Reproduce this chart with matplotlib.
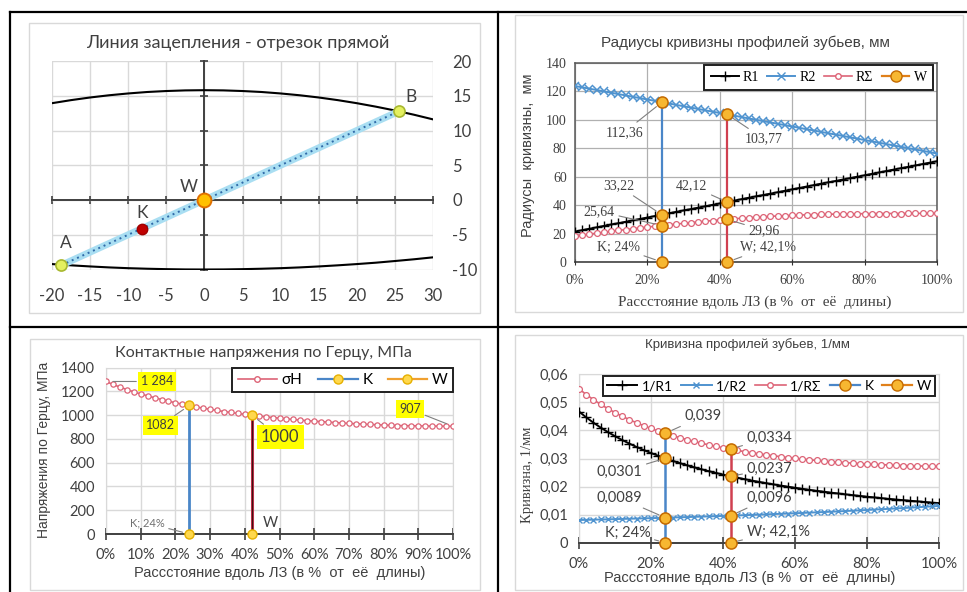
import matplotlib
matplotlib.use("Agg")
import matplotlib.pyplot as plt
from matplotlib.lines import Line2D
from matplotlib.patches import Rectangle
from matplotlib.ticker import PercentFormatter, FuncFormatter

# ---------------- data ----------------
# line of action (top-left)
arc_x = [-20, -17.5, -15, -12.5, -10, -7.5, -5, -2.5, 0, 2.5, 5, 7.5, 10,
         12.5, 15, 17.5, 20, 22.5, 25, 27.5, 30]
arc_top = [13.93, 14.37, 14.75, 15.07, 15.33, 15.54, 15.68, 15.77, 15.8, 15.77, 15.68,
           15.54, 15.33, 15.07, 14.75, 14.37, 13.93, 13.43, 12.88, 12.27, 11.6]
arc_bottom = [-9.22, -9.4, -9.56, -9.7, -9.81, -9.89, -9.95, -9.99, -10, -9.99, -9.95,
              -9.89, -9.81, -9.7, -9.56, -9.4, -9.22, -9.02, -8.78, -8.53, -8.25]
point_names = ["A", "K", "W", "B"]
point_x = [-18.8, -8.2, 0, 25.6]
point_y = [-9.4, -4.2, 0, 12.8]

# position along line of action, %
x_pct = list(range(0, 101, 2))
k_pos = 24
w_pos = 42.1

r1 = [21.4, 22.4, 23.4, 24.4, 25.4, 26.4, 27.3, 28.3, 29.3, 30.3,
      31.3, 32.3, 33.3, 34.3, 35.3, 36.3, 37.2, 38.2, 39.2, 40.2,
      41.2, 42.2, 43.2, 44.2, 45.2, 46.2, 47.1, 48.1, 49.1, 50.1,
      51.1, 52.1, 53.1, 54.1, 55.1, 56.1, 57.0, 58.0, 59.0, 60.0,
      61.0, 62.0, 63.0, 64.0, 65.0, 66.0, 66.9, 67.9, 68.9, 69.9, 70.9]
r2 = [123.8, 122.9, 121.9, 121.0, 120.0, 119.1, 118.1, 117.2, 116.2, 115.3,
      114.3, 113.4, 112.4, 111.5, 110.5, 109.6, 108.6, 107.7, 106.7, 105.8,
      104.8, 103.9, 102.9, 102.0, 101.0, 100.1, 99.1, 98.2, 97.2, 96.3,
      95.3, 94.4, 93.4, 92.5, 91.5, 90.6, 89.6, 88.7, 87.7, 86.8,
      85.8, 84.9, 83.9, 83.0, 82.0, 81.1, 80.1, 79.2, 78.2, 77.3, 76.3]
r_sum = [18.3, 18.9, 19.6, 20.3, 20.9, 21.6, 22.2, 22.8, 23.4, 24.0,
         24.6, 25.1, 25.6, 26.2, 26.7, 27.2, 27.7, 28.2, 28.7, 29.1,
         29.6, 30.0, 30.4, 30.8, 31.2, 31.5, 31.8, 32.1, 32.4, 32.6,
         32.8, 33.0, 33.2, 33.3, 33.5, 33.6, 33.7, 33.8, 33.9, 33.9,
         34.0, 34.0, 34.1, 34.1, 34.1, 34.1, 34.2, 34.2, 34.2, 34.2, 34.2]
k_r_vals = [0, 25.64, 33.22, 112.36]
k_r_labels = ["K; 24%", "25,64", "33,22", "112,36"]
w_r_vals = [0, 29.96, 42.12, 103.77]
w_r_labels = ["W; 42,1%", "29,96", "42,12", "103,77"]

sigma_h = [1284, 1259, 1237, 1216, 1197, 1179, 1163, 1147, 1132, 1118,
           1105, 1093, 1082, 1070, 1059, 1050, 1040, 1031, 1023, 1015,
           1007, 1000, 993, 987, 980, 975, 969, 964, 959, 954,
           950, 946, 942, 938, 934, 931, 928, 925, 922, 920,
           917, 915, 913, 912, 911, 910, 909, 908, 908, 907, 907]
k_sigma = [0, 1082]
w_sigma = [0, 1000]

inv_r1 = [0.04673, 0.04466, 0.04277, 0.04103, 0.03943, 0.03795, 0.03658, 0.03530, 0.03411, 0.03299,
          0.03195, 0.03097, 0.03005, 0.02918, 0.02836, 0.02759, 0.02685, 0.02616, 0.02550, 0.02487,
          0.02427, 0.02370, 0.02316, 0.02264, 0.02214, 0.02167, 0.02121, 0.02078, 0.02036, 0.01996,
          0.01957, 0.01920, 0.01884, 0.01849, 0.01816, 0.01784, 0.01753, 0.01723, 0.01694, 0.01666,
          0.01639, 0.01613, 0.01588, 0.01563, 0.01539, 0.01516, 0.01494, 0.01472, 0.01451, 0.01430, 0.01410]
inv_r2 = [0.00808, 0.00814, 0.00820, 0.00827, 0.00833, 0.00840, 0.00847, 0.00854, 0.00861, 0.00868,
          0.00875, 0.00882, 0.00890, 0.00897, 0.00905, 0.00913, 0.00921, 0.00929, 0.00937, 0.00946,
          0.00954, 0.00963, 0.00972, 0.00981, 0.00990, 0.01000, 0.01009, 0.01019, 0.01029, 0.01039,
          0.01049, 0.01060, 0.01071, 0.01082, 0.01093, 0.01104, 0.01116, 0.01128, 0.01140, 0.01153,
          0.01166, 0.01179, 0.01192, 0.01206, 0.01220, 0.01234, 0.01248, 0.01263, 0.01279, 0.01294, 0.01311]
inv_rsum = [0.05481, 0.05280, 0.05097, 0.04930, 0.04776, 0.04635, 0.04505, 0.04384, 0.04272, 0.04167,
            0.04070, 0.03979, 0.03895, 0.03815, 0.03741, 0.03672, 0.03606, 0.03545, 0.03487, 0.03433,
            0.03381, 0.03333, 0.03288, 0.03245, 0.03204, 0.03167, 0.03130, 0.03097, 0.03065, 0.03035,
            0.03006, 0.02980, 0.02955, 0.02931, 0.02909, 0.02888, 0.02869, 0.02851, 0.02834, 0.02819,
            0.02805, 0.02792, 0.02780, 0.02769, 0.02759, 0.02750, 0.02742, 0.02735, 0.02730, 0.02724, 0.02721]
k_c_vals = [0, 0.0089, 0.0301, 0.039]
k_c_labels = ["K; 24%", "0,0089", "0,0301", "0,039"]
w_c_vals = [0, 0.0096, 0.0237, 0.0334]
w_c_labels = ["W; 42,1%", "0,0096", "0,0237", "0,0334"]

# ---------------- style ----------------
SANS = ["Lato", "DejaVu Sans"]
NARROW = ["Liberation Sans", "DejaVu Sans"]
SERIF = ["Liberation Serif", "DejaVu Serif"]
plt.rcParams["font.family"] = SANS
plt.rcParams["axes.unicode_minus"] = False

C_TXT = "#404040"
C_GRID = "#d9d9d9"
C_BLACK = "#000000"
C_BLUE = "#4f93cf"
C_RED = "#dd6477"
C_VBLUE = "#4a86c8"
C_VRED = "#d04050"
C_ORANGE_F = "#f7b731"
C_ORANGE_E = "#c46a00"
C_YELLOW_F = "#ffd84d"
C_YELLOW_E = "#e6b000"

W_PX, H_PX = 967, 592


def fbox(x0, y0, x1, y1):
    return [x0 / W_PX, 1 - y1 / H_PX, (x1 - x0) / W_PX, (y1 - y0) / H_PX]


def fpt(x, y):
    return x / W_PX, 1 - y / H_PX


def note(ax, text, xy, dxy, ha="center", size=9.5, family=SANS, color=C_TXT,
         leader=True, bbox=None):
    arrow = None
    if leader:
        arrow = dict(arrowstyle="-", color="#7f7f7f", lw=0.8, shrinkA=1, shrinkB=5)
    ax.annotate(text, xy=xy, xytext=dxy, textcoords="offset pixels", ha=ha,
                va="center", fontsize=size, family=family, color=color,
                bbox=bbox, arrowprops=arrow, zorder=8)


fig = plt.figure(figsize=(9.67, 5.92), dpi=100)

# table grid and chart frames
for x0, y0, x1, y1 in [(10, 12, 967, 12), (10, 327, 967, 327), (10, 12, 10, 592), (498, 12, 498, 592)]:
    fig.add_artist(Line2D([x0 / W_PX, x1 / W_PX], [1 - y0 / H_PX, 1 - y1 / H_PX],
                          color="black", lw=1.6, transform=fig.transFigure))
for x0, y0, x1, y1 in [(29, 23, 480, 313), (515, 15, 963, 312), (30, 339, 480, 590), (515, 335, 963, 590)]:
    b = fbox(x0, y0, x1, y1)
    fig.add_artist(Rectangle((b[0], b[1]), b[2], b[3], transform=fig.transFigure,
                             fill=False, ec="#d9d9d9", lw=1))

# ---------------- top-left: line of action ----------------
ax1 = fig.add_axes(fbox(52, 61, 433, 269.5))
ax1.set_xlim(-20, 30)
ax1.set_ylim(-10, 20)
ax1.set_xticks(range(-20, 31, 5))
ax1.set_yticks(range(-10, 21, 5))
ax1.grid(color=C_GRID, lw=1)
ax1.set_axisbelow(True)
for s in ["top", "right"]:
    ax1.spines[s].set_visible(False)
for s in ["left", "bottom"]:
    ax1.spines[s].set_position(("data", 0))
    ax1.spines[s].set_color("#404040")
    ax1.spines[s].set_linewidth(1.4)
ax1.tick_params(direction="inout", length=6, color="#404040", width=1.2,
                labelbottom=False, labelleft=False)

sx = ax1.secondary_xaxis("bottom")
sx.set_xticks(range(-20, 31, 5))
sx.tick_params(length=0, pad=13, labelsize=12, labelcolor=C_TXT)
sx.spines["bottom"].set_visible(False)
sy = ax1.secondary_yaxis("right")
sy.set_yticks(range(-10, 21, 5))
sy.tick_params(length=0, pad=14, labelsize=12, labelcolor=C_TXT)
sy.spines["right"].set_visible(False)

ax1.plot(arc_x, arc_top, color="black", lw=1.5, zorder=3)
ax1.plot(arc_x, arc_bottom, color="black", lw=1.5, zorder=3)
ax1.plot([point_x[0], point_x[3]], [point_y[0], point_y[3]], color="#a9def2", lw=5,
         solid_capstyle="butt", zorder=4)
ax1.plot([point_x[0], point_x[3]], [point_y[0], point_y[3]], color="#2f6aa8", lw=1.4,
         linestyle=(0, (1, 2)), zorder=5)
ax1.plot([point_x[0], point_x[3]], [point_y[0], point_y[3]], linestyle="none", marker="o",
         ms=8, mfc="#e4f060", mec="#a8b830", mew=1.2, zorder=6, clip_on=False)
ax1.plot(point_x[1], point_y[1], linestyle="none", marker="o", ms=7.5, mfc="#c00000",
         mec="#a00000", zorder=6)
ax1.plot(point_x[2], point_y[2], linestyle="none", marker="o", ms=10, mfc="#ffc000",
         mec="#e07000", mew=1.4, zorder=7)
letter_offsets = [(5, 22), (0, 16), (-16, 13), (12, 14)]
for name, px, py, off in zip(point_names, point_x, point_y, letter_offsets):
    note(ax1, name, (px, py), off, size=12.5, leader=False)

fig.text(*fpt(238, 43), "Линия зацепления - отрезок прямой", ha="center", va="center",
         fontsize=13, color=C_TXT)

# ---------------- top-right: radii ----------------
ax2 = fig.add_axes(fbox(575, 63, 937, 262))
ax2.set_xlim(0, 100)
ax2.set_ylim(0, 140)
ax2.set_xticks(range(0, 101, 20))
ax2.set_yticks(range(0, 141, 20))
ax2.xaxis.set_major_formatter(PercentFormatter(xmax=100, decimals=0))
ax2.grid(color="#b0b0b0", lw=0.9)
ax2.set_axisbelow(True)
for s in ax2.spines.values():
    s.set_color("#595959")
    s.set_linewidth(1.1)
ax2.spines["bottom"].set_color("#303030")
ax2.tick_params(axis="x", length=4, direction="inout", color="#303030", pad=7)
ax2.tick_params(axis="y", length=0, pad=6)
for lab in ax2.get_xticklabels() + ax2.get_yticklabels():
    lab.set_family(SERIF)
    lab.set_fontsize(10)
    lab.set_color(C_TXT)

ax2.plot(x_pct, r1, color=C_BLACK, lw=1.4, marker="+", ms=7, mew=1, zorder=3)
ax2.plot(x_pct, r2, color=C_BLUE, lw=1.4, marker="x", ms=5.5, mew=1.1, zorder=3)
ax2.plot(x_pct, r_sum, color=C_RED, lw=1.2, marker="o", ms=4.2, mfc="white", mew=0.9, zorder=3)
ax2.plot([k_pos, k_pos], [0, max(k_r_vals)], color=C_VBLUE, lw=1.6, zorder=4)
ax2.plot([w_pos, w_pos], [0, max(w_r_vals)], color=C_VRED, lw=1.6, zorder=4)
ax2.plot([k_pos] * 4, k_r_vals, linestyle="none", marker="o", ms=8, mfc=C_ORANGE_F,
         mec=C_ORANGE_E, mew=1.1, zorder=5, clip_on=False)
ax2.plot([w_pos] * 4, w_r_vals, linestyle="none", marker="o", ms=8, mfc=C_ORANGE_F,
         mec=C_ORANGE_E, mew=1.1, zorder=5, clip_on=False)
k_r_off = [((-22, 15), "right"), ((-47, 14), "right"), ((-28, 29), "right"), ((-19, -30), "right")]
w_r_off = [((13, 15), "left"), ((21, -11), "left"), ((-20, 16), "right"), ((17, -24), "left")]
for v, t, (off, ha) in zip(k_r_vals, k_r_labels, k_r_off):
    note(ax2, t, (k_pos, v), off, ha=ha, size=10, family=SERIF)
for v, t, (off, ha) in zip(w_r_vals, w_r_labels, w_r_off):
    note(ax2, t, (w_pos, v), off, ha=ha, size=10, family=SERIF)

h2 = [Line2D([], [], color=C_BLACK, lw=1.4, marker="+", ms=7),
      Line2D([], [], color=C_BLUE, lw=1.4, marker="x", ms=5.5),
      Line2D([], [], color=C_RED, lw=1.2, marker="o", ms=4, mfc="white"),
      Line2D([], [], color="#e0801a", lw=1.6, marker="o", ms=8, mfc=C_ORANGE_F, mec=C_ORANGE_E)]
leg2 = ax2.legend(h2, ["R1", "R2", "RΣ", "W"], loc="upper right", bbox_to_anchor=(0.989, 0.99),
                  borderaxespad=0, ncol=4, fancybox=False, framealpha=1, edgecolor="#202020",
                  handlelength=2.0, columnspacing=0.6, handletextpad=0.3, borderpad=0.45,
                  prop={"family": SERIF, "size": 10})
leg2.get_frame().set_linewidth(1.4)

fig.text(*fpt(745, 43), "Радиусы кривизны профилей зубьев, мм", ha="center", va="center",
         fontsize=11, family=NARROW, color=C_TXT)
fig.text(*fpt(528, 155), "Радиусы  кривизны,  мм", ha="center", va="center", rotation=90,
         fontsize=10.5, family=NARROW, color=C_TXT)
fig.text(*fpt(755, 302), "Рассстояние вдоль ЛЗ (в %  от  её  длины)", ha="center",
         va="center", fontsize=11, family=SERIF, color=C_TXT)

# ---------------- bottom-left: contact stress ----------------
ax3 = fig.add_axes(fbox(106, 367.7, 453, 534))
ax3.set_xlim(0, 100)
ax3.set_ylim(0, 1400)
ax3.set_xticks(range(0, 101, 10))
ax3.set_yticks(range(0, 1401, 200))
ax3.xaxis.set_major_formatter(PercentFormatter(xmax=100, decimals=0))
ax3.grid(color=C_GRID, lw=1)
ax3.set_axisbelow(True)
for s in ["top", "right", "left"]:
    ax3.spines[s].set_color(C_GRID)
ax3.spines["bottom"].set_color("#404040")
ax3.spines["bottom"].set_linewidth(1.4)
ax3.tick_params(axis="x", direction="inout", length=8, width=1.2, color="#404040",
                labelsize=10.5, labelcolor=C_TXT, pad=6)
ax3.tick_params(axis="y", length=0, labelsize=10.5, labelcolor=C_TXT, pad=8)

ax3.plot(x_pct, sigma_h, color=C_RED, lw=1.2, marker="o", ms=3.8, mfc="white", mew=0.9, zorder=3)
ax3.plot([k_pos, k_pos], k_sigma, color=C_VBLUE, lw=2, marker="o", ms=6.5, mfc=C_YELLOW_F,
         mec=C_YELLOW_E, zorder=4, clip_on=False)
ax3.plot([w_pos, w_pos], w_sigma, color="#c0304a", lw=2.2, zorder=4)
ax3.plot([w_pos, w_pos], w_sigma, color="#401010", lw=0.8, marker="o", ms=6.5, mfc=C_YELLOW_F,
         mec=C_YELLOW_E, zorder=4, clip_on=False)
yellow_box = dict(boxstyle="square,pad=0.25", fc="#ffff00", ec="none")
note(ax3, "1 284", (x_pct[0], sigma_h[0]), (51, 0), size=9, bbox=yellow_box)
note(ax3, "1082", (k_pos, k_sigma[1]), (-29, -20), size=9, bbox=yellow_box)
note(ax3, "1000", (w_pos, w_sigma[1]), (28, -22), size=12, bbox=yellow_box)
note(ax3, "907", (x_pct[-1], sigma_h[-1]), (-43, 17), size=9, bbox=yellow_box)
note(ax3, "K; 24%", (k_pos, k_sigma[0]), (-42, 11), size=8, color="#707070")
note(ax3, "W", (w_pos, w_sigma[0]), (11, 11), ha="left", size=10.5, leader=False)

h3 = [Line2D([], [], color=C_RED, lw=1.2, marker="o", ms=4, mfc="white"),
      Line2D([], [], color=C_VBLUE, lw=1.6, marker="o", ms=6.5, mfc=C_YELLOW_F, mec=C_YELLOW_E),
      Line2D([], [], color="#f0a030", lw=1.6, marker="o", ms=6.5, mfc=C_YELLOW_F, mec=C_YELLOW_E)]
leg3 = ax3.legend(h3, ["σH", "K", "W"], loc="upper right", bbox_to_anchor=(1.0, 1.0),
                  borderaxespad=0, ncol=3, fancybox=False, framealpha=1, edgecolor="#202020",
                  handlelength=2.6, columnspacing=1.0, handletextpad=0.3, borderpad=0.35,
                  prop={"size": 11})
leg3.get_frame().set_linewidth(1.4)

fig.text(*fpt(263, 353), "Контактные напряжения по Герцу, МПа", ha="center", va="center",
         fontsize=11.5, color=C_TXT)
fig.text(*fpt(44, 450), "Напряжения по Герцу, МПа", ha="center", va="center", rotation=90,
         fontsize=10, family=NARROW, color=C_TXT)
fig.text(*fpt(280, 573), "Рассстояние вдоль ЛЗ (в %  от  её  длины)", ha="center",
         va="center", fontsize=10.5, family=NARROW, color=C_TXT)

# ---------------- bottom-right: curvature ----------------
ax4 = fig.add_axes(fbox(579, 374.3, 939, 542.7))
ax4.set_xlim(0, 100)
ax4.set_ylim(0, 0.06)
ax4.set_xticks(range(0, 101, 20))
ax4.set_yticks([0, 0.01, 0.02, 0.03, 0.04, 0.05, 0.06])
ax4.xaxis.set_major_formatter(PercentFormatter(xmax=100, decimals=0))
ax4.yaxis.set_major_formatter(FuncFormatter(lambda v, _: "0" if v == 0 else f"{v:.2f}".replace(".", ",")))
ax4.grid(color=C_GRID, lw=1)
ax4.set_axisbelow(True)
for s in ["top", "right", "left"]:
    ax4.spines[s].set_color(C_GRID)
ax4.spines["bottom"].set_color("#404040")
ax4.spines["bottom"].set_linewidth(1.4)
ax4.tick_params(axis="x", direction="inout", length=8, width=1.2, color="#404040",
                labelsize=10.5, labelcolor=C_TXT, pad=6)
ax4.tick_params(axis="y", length=0, labelsize=10.5, labelcolor=C_TXT, pad=8)

ax4.plot(x_pct, inv_r1, color=C_BLACK, lw=1.4, marker="+", ms=7, mew=1, zorder=3)
ax4.plot(x_pct, inv_r2, color=C_BLUE, lw=1.4, marker="x", ms=5, mew=1, zorder=3)
ax4.plot(x_pct, inv_rsum, color=C_RED, lw=1.2, marker="o", ms=4.2, mfc="white", mew=0.9, zorder=3)
ax4.plot([k_pos, k_pos], [0, max(k_c_vals)], color=C_VBLUE, lw=1.8, zorder=4)
ax4.plot([w_pos, w_pos], [0, max(w_c_vals)], color=C_VRED, lw=1.8, zorder=4)
ax4.plot([k_pos] * 4, k_c_vals, linestyle="none", marker="o", ms=8, mfc=C_ORANGE_F,
         mec=C_ORANGE_E, mew=1.1, zorder=5, clip_on=False)
ax4.plot([w_pos] * 4, w_c_vals, linestyle="none", marker="o", ms=8, mfc=C_ORANGE_F,
         mec=C_ORANGE_E, mew=1.1, zorder=5, clip_on=False)
k_c_off = [((-15, 10), "right"), ((-23, 20), "right"), ((-23, -14), "right"), ((19, 17), "left")]
w_c_off = [((16, 11), "left"), ((16, 18), "left"), ((16, 7), "left"), ((16, 11), "left")]
for v, t, (off, ha) in zip(k_c_vals, k_c_labels, k_c_off):
    note(ax4, t, (k_pos, v), off, ha=ha, size=10.5)
for v, t, (off, ha) in zip(w_c_vals, w_c_labels, w_c_off):
    note(ax4, t, (w_pos, v), off, ha=ha, size=10.5)

h4 = [Line2D([], [], color=C_BLACK, lw=1.4, marker="+", ms=7),
      Line2D([], [], color=C_BLUE, lw=1.4, marker="x", ms=5),
      Line2D([], [], color=C_RED, lw=1.2, marker="o", ms=4, mfc="white"),
      Line2D([], [], color=C_VBLUE, lw=1.6, marker="o", ms=8, mfc=C_ORANGE_F, mec=C_ORANGE_E),
      Line2D([], [], color="#e0801a", lw=1.6, marker="o", ms=8, mfc=C_ORANGE_F, mec=C_ORANGE_E)]
leg4 = ax4.legend(h4, ["1/R1", "1/R2", "1/RΣ", "K", "W"], loc="upper right",
                  bbox_to_anchor=(0.989, 0.99), borderaxespad=0, ncol=5, fancybox=False,
                  framealpha=1, edgecolor="#202020", handlelength=2.2, columnspacing=0.6,
                  handletextpad=0.3, borderpad=0.3, prop={"size": 10})
leg4.get_frame().set_linewidth(1.4)

fig.text(*fpt(747, 345), "Кривизна профилей зубьев, 1/мм", ha="center", va="center",
         fontsize=9.5, family=NARROW, color=C_TXT)
fig.text(*fpt(528, 475), "Кривизна, 1/мм", ha="center", va="center", rotation=90,
         fontsize=10.5, family=SERIF, color=C_TXT)
fig.text(*fpt(750, 578), "Рассстояние вдоль ЛЗ (в %  от  её  длины)", ha="center",
         va="center", fontsize=10.5, family=NARROW, color=C_TXT)

fig.savefig("out.png", dpi=100)
